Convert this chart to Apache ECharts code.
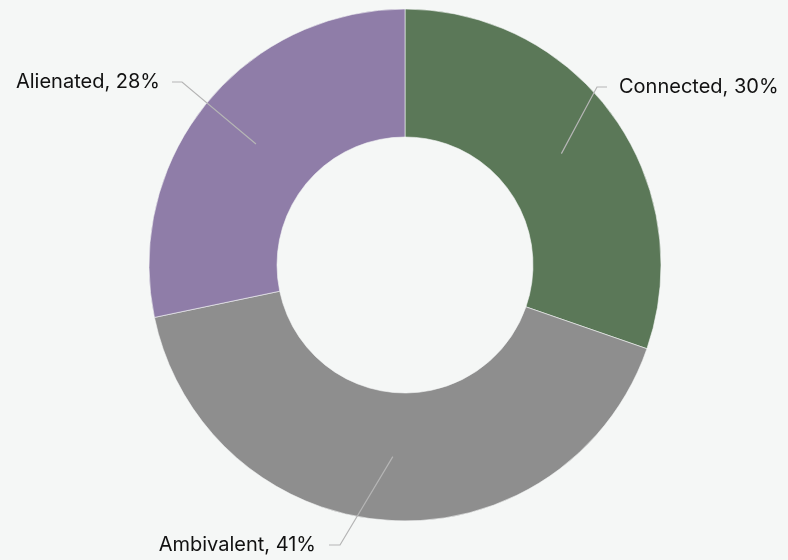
<!DOCTYPE html>
<html>
<head>
<meta charset="utf-8">
<script src="https://cdn.jsdelivr.net/npm/echarts@6/dist/echarts.min.js"></script>
<style>
  html, body { margin: 0; padding: 0; background: #f5f7f6; }
  #chart { width: 788px; height: 560px; }
</style>
</head>
<body>
<div id="chart"></div>
<script>
  // data
  const categories = ['Connected', 'Ambivalent', 'Alienated'];
  const shares = [30, 41, 28];
  const sliceColors = ['#5b7858', '#8e8e8e', '#8f7da8'];

  // where each label goes: elbow of the guide line, end of it, text anchor
  const labelSpots = [
    { elbow: [597, 87], end: [607, 87], text: [619, 87], align: 'left' },
    { elbow: [340, 545], end: [329, 545], text: [316, 545], align: 'right' },
    { elbow: [182, 82], end: [172, 82], text: [160, 82], align: 'right' }
  ];

  const chart = echarts.init(document.getElementById('chart'));

  const pieData = categories.map((name, i) => ({
    name,
    value: shares[i],
    itemStyle: { color: sliceColors[i] }
  }));

  chart.setOption({
    backgroundColor: '#f5f7f6',
    animation: false,
    series: [
      {
        type: 'pie',
        center: [405, 265],
        radius: [128, 256],
        startAngle: 90,
        clockwise: true,
        silent: true,
        data: pieData,
        itemStyle: { borderColor: '#f5f7f6', borderWidth: 0.6 },
        label: { show: false },
        labelLine: { show: false }
      },
      {
        // invisible helper ring: its label lines start mid-way through the donut
        type: 'pie',
        center: [405, 265],
        radius: [0, 192],
        startAngle: 90,
        clockwise: true,
        silent: true,
        z: 5,
        data: categories.map((name, i) => ({ name, value: shares[i] })),
        itemStyle: { color: 'rgba(0,0,0,0)' },
        label: {
          show: true,
          formatter: (p) => `${p.name}, ${p.value}%`,
          color: '#111',
          fontSize: 20,
          fontFamily: 'Inter, "Noto Sans", sans-serif'
        },
        labelLine: {
          show: true,
          length: 20,
          length2: 10,
          lineStyle: { color: '#b5b5b5', width: 1.2 }
        },
        labelLayout: (params) => {
          const spot = labelSpots[params.dataIndex];
          const start = params.labelLinePoints ? params.labelLinePoints[0] : spot.elbow;
          return {
            x: spot.text[0],
            y: spot.text[1],
            align: spot.align,
            verticalAlign: 'middle',
            labelLinePoints: [start, spot.elbow, spot.end]
          };
        }
      }
    ]
  });
</script>
</body>
</html>
